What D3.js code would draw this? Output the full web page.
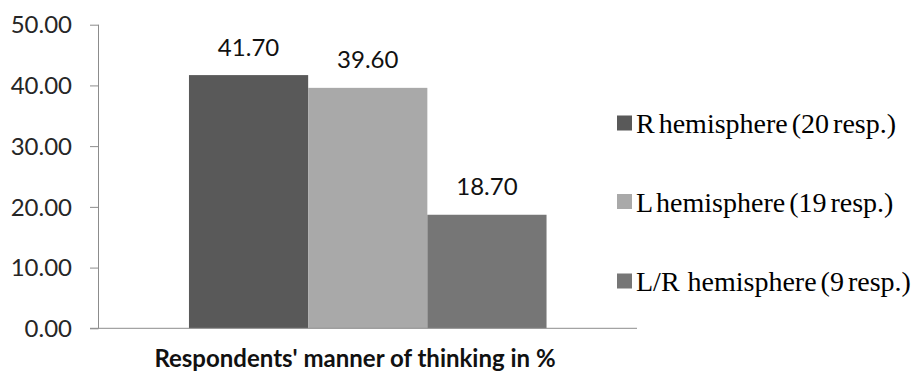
<!DOCTYPE html>
<html>
<head>
<meta charset="utf-8">
<script src="https://cdn.jsdelivr.net/npm/d3@7"></script>
<style>
  html, body { margin: 0; padding: 0; background: #fff; }
  svg { display: block; }
</style>
</head>
<body>
<svg id="chart" width="919" height="371"></svg>
<script>
// Chart data
const categories = ["Respondents' manner of thinking in %"];
const seriesNames = ["R hemisphere (20 resp.)", "L hemisphere (19 resp.)", "L/R  hemisphere (9 resp.)"];
const seriesValues = [41.70, 39.60, 18.70];
const seriesColors = ["#595959", "#a9a9a9", "#767676"];
const yTicks = [0, 10, 20, 30, 40, 50];

const svg = d3.select("#chart");

const plot = { left: 98.5, right: 637, top: 24.7, bottom: 328.3 };

const x = d3.scaleBand()
  .domain(categories)
  .range([plot.left, plot.right])
  .paddingInner(0)
  .paddingOuter(0.253);

const xSeries = d3.scaleBand()
  .domain(seriesNames)
  .range([0, x.bandwidth()])
  .padding(0);

const y = d3.scaleLinear()
  .domain([0, 50])
  .range([plot.bottom, plot.top]);

const axisColor = "#8c8c8c";

// Y axis
const yAxis = svg.append("g")
  .attr("transform", `translate(${plot.left},0)`)
  .call(d3.axisLeft(y).tickValues(yTicks).tickSize(8.5).tickPadding(18).tickFormat(d3.format(".2f")));
yAxis.select(".domain").attr("stroke", axisColor).attr("d", `M0,${plot.top}V${plot.bottom}`);
yAxis.selectAll(".tick line").attr("stroke", axisColor);
yAxis.selectAll(".tick text")
  .attr("fill", "#262626")
  .attr("font-family", "Lato, 'Open Sans', sans-serif")
  .attr("font-size", "24px")
  .attr("dy", "0.34em");

// Bars
const group = svg.append("g").attr("transform", `translate(${x(categories[0])},0)`);
group.selectAll("rect")
  .data(seriesValues)
  .join("rect")
  .attr("x", (d, i) => xSeries(seriesNames[i]))
  .attr("width", xSeries.bandwidth())
  .attr("y", d => y(d))
  .attr("height", d => y(0) - y(d))
  .attr("fill", (d, i) => seriesColors[i]);

// Value labels above bars
group.selectAll("text.value")
  .data(seriesValues)
  .join("text")
  .attr("class", "value")
  .attr("x", (d, i) => xSeries(seriesNames[i]) + xSeries.bandwidth() / 2)
  .attr("y", d => y(d) - 19.5)
  .attr("text-anchor", "middle")
  .attr("font-family", "Lato, 'Open Sans', sans-serif")
  .attr("font-size", "24px")
  .attr("fill", "#111")
  .text(d => d3.format(".2f")(d));

// X axis baseline
svg.append("line")
  .attr("x1", plot.left - 8.5).attr("x2", plot.right)
  .attr("y1", y(0)).attr("y2", y(0))
  .attr("stroke", axisColor);

// Category label
svg.append("text")
  .attr("x", 355)
  .attr("y", 366.5)
  .attr("text-anchor", "middle")
  .attr("font-family", "Lato, 'Open Sans', sans-serif")
  .attr("font-weight", "bold")
  .attr("font-size", "24px")
  .attr("fill", "#111")
  .text(categories[0]);

// Legend
const legendRows = [123, 201.5, 281];
const legend = svg.append("g");
const rows = legend.selectAll("g")
  .data(seriesNames)
  .join("g")
  .attr("transform", (d, i) => `translate(617,${legendRows[i]})`);
rows.append("rect")
  .attr("x", 0).attr("y", -7.5)
  .attr("width", 15).attr("height", 15)
  .attr("fill", (d, i) => seriesColors[i]);
rows.append("text")
  .attr("x", 19)
  .attr("y", 10)
  .attr("font-family", "'Liberation Serif', 'Times New Roman', serif")
  .attr("font-size", "28px")
  .attr("word-spacing", "-3px")
  .attr("fill", "#000")
  .attr("xml:space", "preserve")
  .style("white-space", "pre")
  .text(d => d);
</script>
</body>
</html>
